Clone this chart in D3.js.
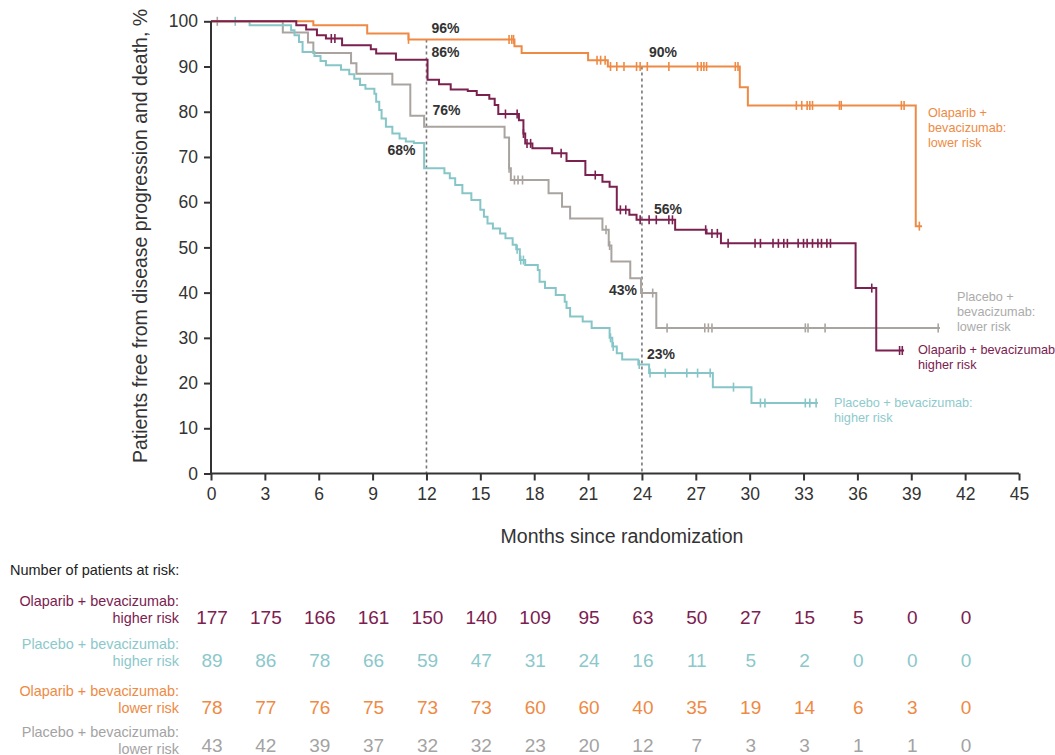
<!DOCTYPE html>
<html><head><meta charset="utf-8">
<script src="https://cdn.jsdelivr.net/npm/d3@7"></script>
<style>body{margin:0;background:#fff}svg{font-family:"Liberation Sans",Arial,Helvetica,sans-serif}</style>
</head><body>
<svg id="c" width="1055" height="755"></svg>
<script>
// ---------- DATA ----------
const xTicks = [0,3,6,9,12,15,18,21,24,27,30,33,36,39,42,45];
const yTicks = [0,10,20,30,40,50,60,70,80,90,100];
const riskTimes = [0,3,6,9,12,15,18,21,24,27,30,33,36,39,42];

// Olaparib + bevacizumab: lower risk
const olaLowT = [0,5.7,8.7,11.0,16.9,17.3,21.0,22.1,29.45,29.9,39.25];
const olaLowS = [100,99.1,97.3,96,94.5,93,91.4,90,85.4,81.4,54.7];
const olaLowEnd = 39.6;
const olaLowCens = [11.0,16.6,16.75,16.85,21.5,21.7,21.95,22.25,22.6,23.0,23.7,23.9,24.3,25.5,27.1,27.3,27.45,27.6,29.2,29.35,32.6,32.9,33.2,33.35,33.5,35.0,35.1,38.45,38.6,39.45];

// Olaparib + bevacizumab: higher risk
const olaHighT = [0,4.75,5.3,5.9,6.4,7.3,8.9,9.2,10.3,12.06,12.7,13.35,14.3,14.8,15.5,15.8,16.0,17.15,17.4,17.5,17.9,19.0,19.8,20.85,21.8,22.2,22.6,23.3,23.7,25.85,27.6,28.4,35.9,37.05];
const olaHighS = [100,99.1,98.2,96.9,96.2,94.7,93.8,92.9,91.5,87.1,86.1,84.9,84.6,83.7,82.9,81.5,79.5,78.1,75.2,73.0,71.9,70.8,69.1,66.0,64.5,63.4,58.3,57.2,56.1,53.9,53.1,50.9,41.0,27.2];
const olaHighEnd = 38.6;
const olaHighCens = [6.7,6.9,16.4,17.05,17.4,17.6,17.8,19.5,21.4,22.8,23.1,23.9,24.4,24.8,25.5,25.7,27.55,27.9,28.2,28.8,30.3,30.6,31.3,31.6,31.9,32.1,32.7,33.0,33.2,33.5,33.8,34.0,34.3,34.5,36.8,38.35,38.5];

// Placebo + bevacizumab: higher risk
const plaHighT = [0,2.15,4.46,4.65,4.9,5.1,5.76,6.1,6.4,7.24,7.7,7.98,8.3,8.6,9.1,9.2,9.37,9.5,9.74,10.1,10.5,10.85,11.3,11.87,13.0,13.3,13.6,14.0,14.5,15.0,15.2,15.4,15.7,16.1,16.4,16.8,17.0,17.2,17.5,18.2,18.3,18.6,19.2,19.7,19.8,20.0,20.7,21.2,22.2,22.35,22.6,22.9,23.8,24.4,27.95,30.1];
const plaHighS = [100,99.1,98.0,96.9,95.4,93.2,92.3,91.2,90.3,89.3,88.3,87.3,85.9,85.1,84.0,82.2,80.4,78.5,76.7,75.2,74.1,73.4,73.1,67.5,66.4,65.3,63.8,62.0,60.5,58.3,56.8,55.3,54.2,53.1,52.0,50.6,49.6,47.2,46.1,45.0,42.4,41.0,39.5,38.0,36.6,34.7,33.6,32.2,30.0,28.1,26.6,25.2,24.1,22.2,19.1,15.6];
const plaHighEnd = 33.8;
const plaHighCens = [1.35,17.05,17.25,17.4,22.25,22.4,23.85,24.45,25.3,26.5,27.1,27.8,29.1,30.6,30.85,33.1,33.35,33.7];

// Placebo + bevacizumab: lower risk
const plaLowT = [0,4.0,5.4,5.7,7.8,8.1,10.1,11.1,11.87,16.35,16.6,16.7,18.8,19.55,20.0,21.8,22.15,22.3,23.35,23.95,24.8];
const plaLowS = [100,97.5,95.3,93.0,90.7,88.4,86.0,79.1,76.7,74.3,67.5,64.9,62.0,59.0,56.4,53.9,50.4,46.9,43.2,39.9,32.2];
const plaLowEnd = 40.6;
const plaLowCens = [0.35,16.6,16.9,17.1,17.35,22.0,22.2,24.0,24.6,25.4,27.5,27.7,27.9,33.1,33.25,34.2,40.5];

// Number at risk
const riskOlaHigh = [177,175,166,161,150,140,109,95,63,50,27,15,5,0,0];
const riskPlaHigh = [89,86,78,66,59,47,31,24,16,11,5,2,0,0,0];
const riskOlaLow  = [78,77,76,75,73,73,60,60,40,35,19,14,6,3,0];
const riskPlaLow  = [43,42,39,37,32,32,23,20,12,7,3,3,1,1,0];

// Landmark annotations
const landmarks = [12,24];
const annotations = [
  {t:12, txt:"96%", dx:5, y:28},
  {t:12, txt:"86%", dx:5, y:52},
  {t:12, txt:"76%", dx:6, y:110},
  {t:12, txt:"68%", dx:-39, y:150},
  {t:24, txt:"90%", dx:7, y:52},
  {t:24, txt:"56%", dx:12, y:209},
  {t:24, txt:"43%", dx:-33, y:290},
  {t:24, txt:"23%", dx:5, y:354}
];

// ---------- STYLE ----------
const C = {olaHigh:"#7B2150", plaHigh:"#86C6C8", olaLow:"#EE8A44", plaLow:"#A9A4A0", axis:"#333"};

const series = [
  {key:"plaLow", T:plaLowT, S:plaLowS, end:plaLowEnd, cens:plaLowCens, color:C.plaLow},
  {key:"plaHigh", T:plaHighT, S:plaHighS, end:plaHighEnd, cens:plaHighCens, color:C.plaHigh},
  {key:"olaLow", T:olaLowT, S:olaLowS, end:olaLowEnd, cens:olaLowCens, color:C.olaLow},
  {key:"olaHigh", T:olaHighT, S:olaHighS, end:olaHighEnd, cens:olaHighCens, color:C.olaHigh}
];

const svg = d3.select("#c");
const x = d3.scaleLinear().domain([0,45]).range([211,1019]);
const y = d3.scaleLinear().domain([0,100]).range([473.5,21.3]);

function survAt(s, t){ const i = d3.bisectRight(s.T, t) - 1; return s.S[Math.max(0,i)]; }

// landmark dashed lines
const olaLowSer = series.find(s=>s.key==="olaLow");
svg.selectAll("line.lm").data(landmarks).join("line")
  .attr("x1",d=>x(d)).attr("x2",d=>x(d))
  .attr("y1",d=>y(survAt(olaLowSer,d))).attr("y2",y(0))
  .attr("stroke","#777").attr("stroke-width",1.6).attr("stroke-dasharray","3,3");

// curves
const line = d3.line().x(d=>x(d[0])).y(d=>y(d[1])).curve(d3.curveStepAfter);
series.forEach(s=>{
  const pts = s.T.map((t,i)=>[t,s.S[i]]);
  pts.push([s.end, s.S[s.S.length-1]]);
  svg.append("path").attr("d",line(pts)).attr("fill","none")
    .attr("stroke",s.color).attr("stroke-width",2);
  svg.append("g").selectAll("line").data(s.cens).join("line")
    .attr("x1",d=>x(d)).attr("x2",d=>x(d))
    .attr("y1",d=>y(survAt(s,d))-4.5).attr("y2",d=>y(survAt(s,d))+4.5)
    .attr("stroke",s.color).attr("stroke-width",1.6);
});

// axes
const xAxis = svg.append("g").attr("transform",`translate(0,${y(0)})`)
  .call(d3.axisBottom(x).tickValues(xTicks).tickSize(7).tickPadding(7));
const yAxis = svg.append("g").attr("transform",`translate(${x(0)},0)`)
  .call(d3.axisLeft(y).tickValues(yTicks).tickSize(7).tickPadding(6));
[xAxis,yAxis].forEach(a=>{
  a.select(".domain").attr("stroke",C.axis).attr("stroke-width",2);
  a.selectAll(".tick line").attr("stroke",C.axis).attr("stroke-width",2);
  a.selectAll(".tick text").attr("fill","#333").style("font-size","17.5px")
   .style("font-family",'"Liberation Sans",Arial,sans-serif');
});
yAxis.select(".domain").attr("d",`M0,${y(0)}V${y(100)}`);
xAxis.select(".domain").attr("d",`M${x(0)},0H${x(45)}`);

// axis titles
svg.append("text").attr("transform",`translate(140,236) rotate(-90)`)
  .attr("text-anchor","middle").attr("dominant-baseline","central")
  .style("font-size","19.5px").attr("fill","#333")
  .text("Patients free from disease progression and death, %");
svg.append("text").attr("x",622).attr("y",536).attr("text-anchor","middle")
  .attr("dominant-baseline","central").style("font-size","19.5px").attr("fill","#333")
  .text("Months since randomization");

// annotations
svg.selectAll("text.ann").data(annotations).join("text")
  .attr("x",d=>x(d.t)+d.dx).attr("y",d=>d.y).attr("dominant-baseline","central")
  .style("font-size","14px").style("font-weight","bold").attr("fill","#333")
  .text(d=>d.txt);

// curve labels
const curveLabels = [
  {lines:["Olaparib +","bevacizumab:","lower risk"], x:928, y:113, color:C.olaLow},
  {lines:["Placebo +","bevacizumab:","lower risk"], x:957, y:297, color:"#ABABAB"},
  {lines:["Olaparib + bevacizumab","higher risk"], x:918, y:350, color:C.olaHigh},
  {lines:["Placebo + bevacizumab:","higher risk"], x:834, y:403, color:"#8ECACC"}
];
curveLabels.forEach(l=>{
  const t = svg.append("text").attr("x",l.x).attr("y",l.y).attr("fill",l.color)
    .style("font-size","12.7px");
  l.lines.forEach((s,i)=>t.append("tspan").attr("x",l.x).attr("y",l.y+i*15)
    .attr("dominant-baseline","central").text(s));
});

// risk table
svg.append("text").attr("x",10).attr("y",570).attr("dominant-baseline","central")
  .style("font-size","14.5px").attr("fill","#222").text("Number of patients at risk:");
const riskRows = [
  {vals:riskOlaHigh, color:C.olaHigh, label:["Olaparib + bevacizumab:","higher risk"], ly:601, ny:617},
  {vals:riskPlaHigh, color:"#8CC8CB", label:["Placebo + bevacizumab:","higher risk"], ly:644, ny:660},
  {vals:riskOlaLow, color:C.olaLow, label:["Olaparib + bevacizumab:","lower risk"], ly:691, ny:707},
  {vals:riskPlaLow, color:"#A3A3A3", label:["Placebo + bevacizumab:","lower risk"], ly:732, ny:745}
];
riskRows.forEach(r=>{
  const t = svg.append("text").attr("text-anchor","end").attr("fill",r.color).style("font-size","14.4px");
  r.label.forEach((s,i)=>t.append("tspan").attr("x",179).attr("y",r.ly+i*16.5)
    .attr("dominant-baseline","central").text(s));
  svg.append("g").selectAll("text").data(r.vals).join("text")
    .attr("x",(d,i)=>x(riskTimes[i])+1).attr("y",r.ny).attr("text-anchor","middle")
    .attr("dominant-baseline","central").attr("fill",r.color).style("font-size","19px")
    .text(d=>d);
});
</script>
</body></html>
